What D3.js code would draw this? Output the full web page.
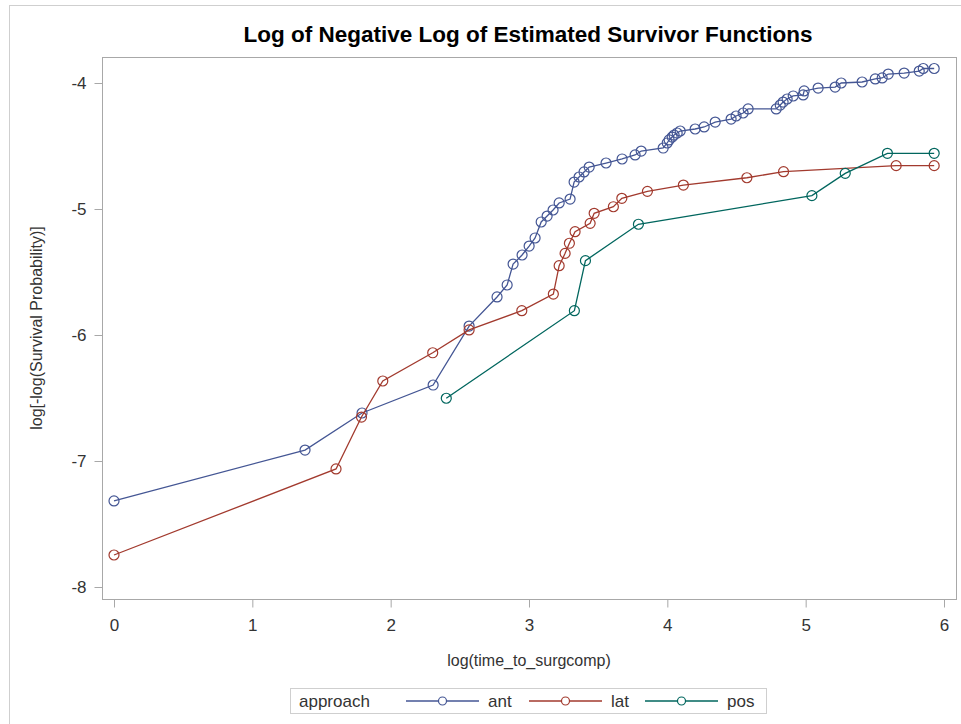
<!DOCTYPE html>
<meta charset="utf-8">
<script src="https://d3js.org/d3.v7.min.js"></script>
<style>
  body { margin: 0; background: #fff; }
  text { font-family: "Liberation Sans", Arial, sans-serif; }
</style>
<div id="chart"></div>
<script>

// estimated survivor curves
const antX = [0, 1.381, 1.793, 2.307, 2.567, 2.769, 2.842, 2.885, 2.950, 3.001, 3.044, 3.088, 3.131, 3.174, 3.218, 3.297, 3.326, 3.362, 3.398, 3.435, 3.557, 3.673, 3.767, 3.811, 3.970, 3.999, 4.013, 4.035, 4.049, 4.071, 4.093, 4.201, 4.266, 4.346, 4.461, 4.497, 4.548, 4.584, 4.787, 4.816, 4.837, 4.866, 4.910, 4.982, 4.989, 5.090, 5.213, 5.257, 5.408, 5.503, 5.553, 5.597, 5.712, 5.821, 5.850, 5.929];
const antY = [-7.317, -6.913, -6.619, -6.397, -5.929, -5.698, -5.603, -5.437, -5.365, -5.294, -5.230, -5.103, -5.056, -5.008, -4.952, -4.921, -4.786, -4.746, -4.706, -4.667, -4.635, -4.603, -4.571, -4.540, -4.516, -4.476, -4.452, -4.429, -4.413, -4.397, -4.381, -4.365, -4.349, -4.310, -4.286, -4.262, -4.238, -4.206, -4.206, -4.175, -4.151, -4.127, -4.103, -4.095, -4.063, -4.040, -4.032, -4.000, -3.992, -3.968, -3.960, -3.929, -3.921, -3.905, -3.885, -3.885];

const latX = [0, 1.605, 1.789, 1.943, 2.304, 2.567, 2.948, 3.176, 3.218, 3.261, 3.292, 3.333, 3.442, 3.471, 3.610, 3.671, 3.856, 4.116, 4.575, 4.840, 5.654, 5.929];
const latY = [-7.746, -7.063, -6.651, -6.365, -6.141, -5.960, -5.807, -5.675, -5.450, -5.352, -5.272, -5.180, -5.114, -5.034, -4.982, -4.915, -4.860, -4.810, -4.752, -4.704, -4.656, -4.656];

const posX = [2.402, 3.328, 3.408, 3.791, 5.045, 5.286, 5.591, 5.929];
const posY = [-6.502, -5.807, -5.410, -5.121, -4.894, -4.717, -4.558, -4.558];

const groups = ["ant", "lat", "pos"];
const colors = ["#445694", "#A23A2E", "#01665E"];
const xTicks = [0, 1, 2, 3, 4, 5, 6];
const yTicks = [-8, -7, -6, -5, -4];

const series = [
  {name: groups[0], xs: antX, ys: antY},
  {name: groups[1], xs: latX, ys: latY},
  {name: groups[2], xs: posX, ys: posY}
];

const W = 961, H = 724;
const frame = {left: 102, right: 956, top: 57, bottom: 599};

const svg = d3.select("#chart").append("svg")
    .attr("width", W)
    .attr("height", H);

// outer border of the graph
svg.append("rect")
    .attr("x", 9.5).attr("y", 5.5)
    .attr("width", W + 20).attr("height", H + 20)
    .attr("fill", "none")
    .attr("stroke", "#cfcfcf");

// scales
const x = d3.scaleLinear().domain([0, 6]).range([114, 944]);
const y = d3.scaleLinear().domain([-8, -4]).range([587, 83]);

// title
svg.append("text")
    .attr("x", 528).attr("y", 42)
    .attr("text-anchor", "middle")
    .style("font-weight", "bold")
    .style("font-size", "22.5px")
    .attr("fill", "#000")
    .text("Log of Negative Log of Estimated Survivor Functions");

// plot frame
svg.append("rect")
    .attr("x", frame.left + 0.5).attr("y", frame.top + 0.5)
    .attr("width", frame.right - frame.left).attr("height", frame.bottom - frame.top)
    .attr("fill", "none")
    .attr("stroke", "#a8a8a8");

const fmt = d => String(d);

// x axis
const gx = svg.append("g")
    .attr("transform", "translate(0," + (frame.bottom + 0.5) + ")")
    .call(d3.axisBottom(x).tickValues(xTicks).tickSize(8).tickPadding(11).tickFormat(fmt));
gx.select(".domain").remove();
gx.selectAll("line").attr("stroke", "#a8a8a8");
gx.selectAll("text").style("font-size", "17px").attr("fill", "#333");

// y axis
const gy = svg.append("g")
    .attr("transform", "translate(" + (frame.left + 0.5) + ",0)")
    .call(d3.axisLeft(y).tickValues(yTicks).tickSize(8).tickPadding(8).tickFormat(fmt));
gy.select(".domain").remove();
gy.selectAll("line").attr("stroke", "#a8a8a8");
gy.selectAll("text").style("font-size", "17px").attr("fill", "#333");

// axis labels
svg.append("text")
    .attr("x", 529).attr("y", 666)
    .attr("text-anchor", "middle")
    .style("font-size", "16px")
    .attr("fill", "#333")
    .text("log(time_to_surgcomp)");

svg.append("text")
    .attr("transform", "translate(42,328) rotate(-90)")
    .attr("text-anchor", "middle")
    .style("font-size", "16px")
    .attr("fill", "#333")
    .text("log[-log(Survival Probability)]");

// curves
const line = d3.line()
    .x(d => x(d[0]))
    .y(d => y(d[1]));

series.forEach((s, i) => {
  const pts = s.xs.map((v, j) => [v, s.ys[j]]);
  svg.append("path")
      .datum(pts)
      .attr("d", line)
      .attr("fill", "none")
      .attr("stroke", colors[i])
      .attr("stroke-width", 1.3);
  svg.append("g")
    .selectAll("circle")
    .data(pts)
    .enter()
    .append("circle")
      .attr("cx", d => x(d[0]))
      .attr("cy", d => y(d[1]))
      .attr("r", 5)
      .attr("fill", "none")
      .attr("stroke", colors[i])
      .attr("stroke-width", 1.2);
});

// legend
const leg = svg.append("g");
leg.append("rect")
    .attr("x", 290.5).attr("y", 688.5)
    .attr("width", 476).attr("height", 25)
    .attr("fill", "#fff")
    .attr("stroke", "#cfcfcf");
leg.append("text")
    .attr("x", 299).attr("y", 707)
    .style("font-size", "17px")
    .attr("fill", "#333")
    .text("approach");

const legX = [406, 529, 645];
groups.forEach((g, i) => {
  const x0 = legX[i];
  leg.append("line")
      .attr("x1", x0).attr("x2", x0 + 73)
      .attr("y1", 701).attr("y2", 701)
      .attr("stroke", colors[i])
      .attr("stroke-width", 1.3);
  leg.append("circle")
      .attr("cx", x0 + 36.5).attr("cy", 701)
      .attr("r", 4)
      .attr("fill", "#fff")
      .attr("stroke", colors[i])
      .attr("stroke-width", 1.2);
  leg.append("text")
      .attr("x", x0 + 82).attr("y", 707)
      .style("font-size", "17px")
      .attr("fill", "#333")
      .text(g);
});

</script>
